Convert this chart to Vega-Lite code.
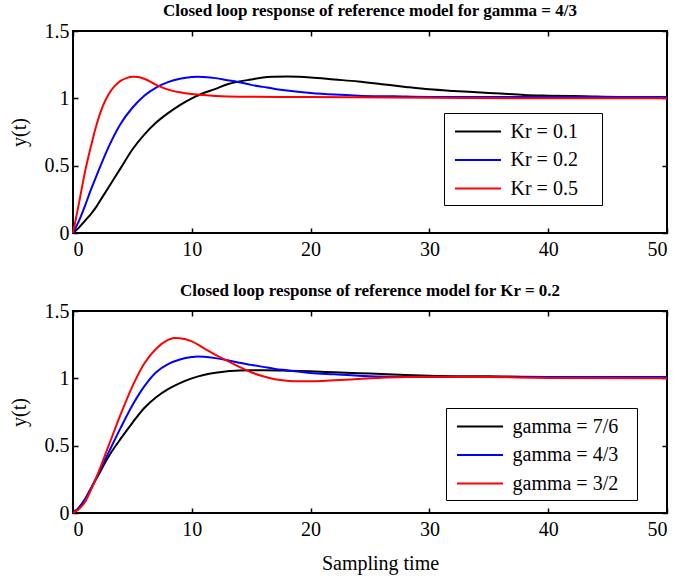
{
  "$schema": "https://vega.github.io/schema/vega-lite/v6.json",
  "background": "white",
  "padding": {"left": 8, "top": 1, "right": 5, "bottom": 5},
  "datasets": {
    "top": [
      {"t": 0, "y": 0, "series": "Kr = 0.1"}, {"t": 0.5, "y": 0.04, "series": "Kr = 0.1"}, {"t": 1, "y": 0.09, "series": "Kr = 0.1"},
      {"t": 1.5, "y": 0.14, "series": "Kr = 0.1"}, {"t": 2, "y": 0.2, "series": "Kr = 0.1"}, {"t": 2.5, "y": 0.27, "series": "Kr = 0.1"},
      {"t": 3, "y": 0.34, "series": "Kr = 0.1"}, {"t": 4, "y": 0.48, "series": "Kr = 0.1"}, {"t": 5, "y": 0.62, "series": "Kr = 0.1"},
      {"t": 6, "y": 0.73, "series": "Kr = 0.1"}, {"t": 7, "y": 0.82, "series": "Kr = 0.1"}, {"t": 8, "y": 0.89, "series": "Kr = 0.1"},
      {"t": 9, "y": 0.95, "series": "Kr = 0.1"}, {"t": 10, "y": 1.0, "series": "Kr = 0.1"}, {"t": 11, "y": 1.04, "series": "Kr = 0.1"},
      {"t": 12, "y": 1.07, "series": "Kr = 0.1"}, {"t": 13, "y": 1.105, "series": "Kr = 0.1"}, {"t": 14, "y": 1.125, "series": "Kr = 0.1"},
      {"t": 15, "y": 1.14, "series": "Kr = 0.1"}, {"t": 16, "y": 1.155, "series": "Kr = 0.1"}, {"t": 17, "y": 1.16, "series": "Kr = 0.1"},
      {"t": 18, "y": 1.162, "series": "Kr = 0.1"}, {"t": 19, "y": 1.16, "series": "Kr = 0.1"}, {"t": 20, "y": 1.155, "series": "Kr = 0.1"},
      {"t": 22, "y": 1.14, "series": "Kr = 0.1"}, {"t": 24, "y": 1.125, "series": "Kr = 0.1"}, {"t": 26, "y": 1.105, "series": "Kr = 0.1"},
      {"t": 28, "y": 1.085, "series": "Kr = 0.1"}, {"t": 30, "y": 1.067, "series": "Kr = 0.1"}, {"t": 32, "y": 1.055, "series": "Kr = 0.1"},
      {"t": 34, "y": 1.045, "series": "Kr = 0.1"}, {"t": 36, "y": 1.035, "series": "Kr = 0.1"}, {"t": 38, "y": 1.025, "series": "Kr = 0.1"},
      {"t": 40, "y": 1.02, "series": "Kr = 0.1"}, {"t": 43, "y": 1.015, "series": "Kr = 0.1"}, {"t": 46, "y": 1.01, "series": "Kr = 0.1"},
      {"t": 50, "y": 1.01, "series": "Kr = 0.1"},

      {"t": 0, "y": 0, "series": "Kr = 0.2"}, {"t": 0.5, "y": 0.09, "series": "Kr = 0.2"}, {"t": 1, "y": 0.2, "series": "Kr = 0.2"},
      {"t": 1.5, "y": 0.32, "series": "Kr = 0.2"}, {"t": 2, "y": 0.43, "series": "Kr = 0.2"}, {"t": 3, "y": 0.64, "series": "Kr = 0.2"},
      {"t": 4, "y": 0.81, "series": "Kr = 0.2"}, {"t": 5, "y": 0.93, "series": "Kr = 0.2"}, {"t": 6, "y": 1.02, "series": "Kr = 0.2"},
      {"t": 7, "y": 1.08, "series": "Kr = 0.2"}, {"t": 8, "y": 1.12, "series": "Kr = 0.2"}, {"t": 9, "y": 1.145, "series": "Kr = 0.2"},
      {"t": 10, "y": 1.158, "series": "Kr = 0.2"}, {"t": 10.5, "y": 1.16, "series": "Kr = 0.2"}, {"t": 11, "y": 1.158, "series": "Kr = 0.2"},
      {"t": 12, "y": 1.15, "series": "Kr = 0.2"}, {"t": 13, "y": 1.135, "series": "Kr = 0.2"}, {"t": 14, "y": 1.12, "series": "Kr = 0.2"},
      {"t": 15, "y": 1.1, "series": "Kr = 0.2"}, {"t": 16, "y": 1.085, "series": "Kr = 0.2"}, {"t": 17, "y": 1.07, "series": "Kr = 0.2"},
      {"t": 18, "y": 1.058, "series": "Kr = 0.2"}, {"t": 20, "y": 1.04, "series": "Kr = 0.2"}, {"t": 22, "y": 1.028, "series": "Kr = 0.2"},
      {"t": 24, "y": 1.02, "series": "Kr = 0.2"}, {"t": 27, "y": 1.015, "series": "Kr = 0.2"}, {"t": 30, "y": 1.01, "series": "Kr = 0.2"},
      {"t": 40, "y": 1.01, "series": "Kr = 0.2"}, {"t": 50, "y": 1.01, "series": "Kr = 0.2"},

      {"t": 0, "y": 0, "series": "Kr = 0.5"}, {"t": 0.5, "y": 0.22, "series": "Kr = 0.5"}, {"t": 1, "y": 0.45, "series": "Kr = 0.5"},
      {"t": 1.5, "y": 0.64, "series": "Kr = 0.5"}, {"t": 2, "y": 0.81, "series": "Kr = 0.5"}, {"t": 2.5, "y": 0.94, "series": "Kr = 0.5"},
      {"t": 3, "y": 1.03, "series": "Kr = 0.5"}, {"t": 3.5, "y": 1.09, "series": "Kr = 0.5"}, {"t": 4, "y": 1.13, "series": "Kr = 0.5"},
      {"t": 4.5, "y": 1.15, "series": "Kr = 0.5"}, {"t": 5, "y": 1.16, "series": "Kr = 0.5"}, {"t": 5.5, "y": 1.158, "series": "Kr = 0.5"},
      {"t": 6, "y": 1.145, "series": "Kr = 0.5"}, {"t": 7, "y": 1.1, "series": "Kr = 0.5"}, {"t": 8, "y": 1.065, "series": "Kr = 0.5"},
      {"t": 9, "y": 1.045, "series": "Kr = 0.5"}, {"t": 10, "y": 1.032, "series": "Kr = 0.5"}, {"t": 11, "y": 1.024, "series": "Kr = 0.5"},
      {"t": 12, "y": 1.018, "series": "Kr = 0.5"}, {"t": 14, "y": 1.012, "series": "Kr = 0.5"}, {"t": 20, "y": 1.01, "series": "Kr = 0.5"},
      {"t": 30, "y": 1.005, "series": "Kr = 0.5"}, {"t": 40, "y": 1.0, "series": "Kr = 0.5"}, {"t": 50, "y": 1.0, "series": "Kr = 0.5"}
    ],
    "bottom": [
      {"t": 0, "y": 0, "series": "gamma = 7/6"}, {"t": 0.5, "y": 0.04, "series": "gamma = 7/6"}, {"t": 1, "y": 0.1, "series": "gamma = 7/6"},
      {"t": 1.5, "y": 0.18, "series": "gamma = 7/6"}, {"t": 2, "y": 0.26, "series": "gamma = 7/6"}, {"t": 3, "y": 0.42, "series": "gamma = 7/6"},
      {"t": 4, "y": 0.55, "series": "gamma = 7/6"}, {"t": 5, "y": 0.67, "series": "gamma = 7/6"}, {"t": 6, "y": 0.78, "series": "gamma = 7/6"},
      {"t": 7, "y": 0.86, "series": "gamma = 7/6"}, {"t": 8, "y": 0.92, "series": "gamma = 7/6"}, {"t": 9, "y": 0.965, "series": "gamma = 7/6"},
      {"t": 10, "y": 1.0, "series": "gamma = 7/6"}, {"t": 11, "y": 1.025, "series": "gamma = 7/6"}, {"t": 12, "y": 1.042, "series": "gamma = 7/6"},
      {"t": 13, "y": 1.053, "series": "gamma = 7/6"}, {"t": 14, "y": 1.058, "series": "gamma = 7/6"}, {"t": 15, "y": 1.06, "series": "gamma = 7/6"},
      {"t": 16, "y": 1.06, "series": "gamma = 7/6"}, {"t": 18, "y": 1.057, "series": "gamma = 7/6"}, {"t": 20, "y": 1.052, "series": "gamma = 7/6"},
      {"t": 22, "y": 1.045, "series": "gamma = 7/6"}, {"t": 25, "y": 1.035, "series": "gamma = 7/6"}, {"t": 28, "y": 1.025, "series": "gamma = 7/6"},
      {"t": 30, "y": 1.02, "series": "gamma = 7/6"}, {"t": 35, "y": 1.015, "series": "gamma = 7/6"}, {"t": 40, "y": 1.01, "series": "gamma = 7/6"},
      {"t": 45, "y": 1.01, "series": "gamma = 7/6"}, {"t": 50, "y": 1.01, "series": "gamma = 7/6"},

      {"t": 0, "y": 0, "series": "gamma = 4/3"}, {"t": 0.5, "y": 0.04, "series": "gamma = 4/3"}, {"t": 1, "y": 0.1, "series": "gamma = 4/3"},
      {"t": 1.5, "y": 0.18, "series": "gamma = 4/3"}, {"t": 2, "y": 0.27, "series": "gamma = 4/3"}, {"t": 3, "y": 0.45, "series": "gamma = 4/3"},
      {"t": 4, "y": 0.63, "series": "gamma = 4/3"}, {"t": 5, "y": 0.8, "series": "gamma = 4/3"}, {"t": 6, "y": 0.94, "series": "gamma = 4/3"},
      {"t": 7, "y": 1.045, "series": "gamma = 4/3"}, {"t": 8, "y": 1.105, "series": "gamma = 4/3"}, {"t": 9, "y": 1.14, "series": "gamma = 4/3"},
      {"t": 10, "y": 1.158, "series": "gamma = 4/3"}, {"t": 10.5, "y": 1.162, "series": "gamma = 4/3"}, {"t": 11, "y": 1.16, "series": "gamma = 4/3"},
      {"t": 12, "y": 1.15, "series": "gamma = 4/3"}, {"t": 13, "y": 1.135, "series": "gamma = 4/3"}, {"t": 14, "y": 1.115, "series": "gamma = 4/3"},
      {"t": 15, "y": 1.1, "series": "gamma = 4/3"}, {"t": 16, "y": 1.085, "series": "gamma = 4/3"}, {"t": 17, "y": 1.07, "series": "gamma = 4/3"},
      {"t": 18, "y": 1.06, "series": "gamma = 4/3"}, {"t": 20, "y": 1.04, "series": "gamma = 4/3"}, {"t": 22, "y": 1.03, "series": "gamma = 4/3"},
      {"t": 24, "y": 1.02, "series": "gamma = 4/3"}, {"t": 27, "y": 1.012, "series": "gamma = 4/3"}, {"t": 30, "y": 1.01, "series": "gamma = 4/3"},
      {"t": 40, "y": 1.01, "series": "gamma = 4/3"}, {"t": 50, "y": 1.01, "series": "gamma = 4/3"},

      {"t": 0, "y": 0, "series": "gamma = 3/2"}, {"t": 0.5, "y": 0.03, "series": "gamma = 3/2"}, {"t": 1, "y": 0.08, "series": "gamma = 3/2"},
      {"t": 1.5, "y": 0.17, "series": "gamma = 3/2"}, {"t": 2, "y": 0.27, "series": "gamma = 3/2"}, {"t": 3, "y": 0.5, "series": "gamma = 3/2"},
      {"t": 4, "y": 0.73, "series": "gamma = 3/2"}, {"t": 5, "y": 0.94, "series": "gamma = 3/2"}, {"t": 6, "y": 1.11, "series": "gamma = 3/2"},
      {"t": 7, "y": 1.22, "series": "gamma = 3/2"}, {"t": 8, "y": 1.285, "series": "gamma = 3/2"}, {"t": 8.5, "y": 1.3, "series": "gamma = 3/2"},
      {"t": 9, "y": 1.298, "series": "gamma = 3/2"}, {"t": 10, "y": 1.275, "series": "gamma = 3/2"}, {"t": 11, "y": 1.225, "series": "gamma = 3/2"},
      {"t": 12, "y": 1.175, "series": "gamma = 3/2"}, {"t": 13, "y": 1.13, "series": "gamma = 3/2"}, {"t": 14, "y": 1.085, "series": "gamma = 3/2"},
      {"t": 15, "y": 1.045, "series": "gamma = 3/2"}, {"t": 16, "y": 1.015, "series": "gamma = 3/2"}, {"t": 17, "y": 0.993, "series": "gamma = 3/2"},
      {"t": 18, "y": 0.982, "series": "gamma = 3/2"}, {"t": 19, "y": 0.978, "series": "gamma = 3/2"}, {"t": 20, "y": 0.978, "series": "gamma = 3/2"},
      {"t": 21, "y": 0.98, "series": "gamma = 3/2"}, {"t": 22, "y": 0.985, "series": "gamma = 3/2"}, {"t": 24, "y": 0.995, "series": "gamma = 3/2"},
      {"t": 26, "y": 1.005, "series": "gamma = 3/2"}, {"t": 28, "y": 1.01, "series": "gamma = 3/2"}, {"t": 30, "y": 1.012, "series": "gamma = 3/2"},
      {"t": 35, "y": 1.01, "series": "gamma = 3/2"}, {"t": 40, "y": 1.003, "series": "gamma = 3/2"}, {"t": 50, "y": 1.0, "series": "gamma = 3/2"}
    ]
  },
  "config": {
    "font": "Liberation Serif",
    "view": {"stroke": "black", "strokeWidth": 2},
    "axis": {
      "grid": false, "domain": false,
      "tickColor": "black", "tickWidth": 1.5, "tickSize": -5,
      "labelFont": "Liberation Serif", "labelFontSize": 20, "labelColor": "black",
      "titleFont": "Liberation Serif", "titleFontSize": 20, "titleFontWeight": "normal", "titleColor": "black"
    },
    "title": {"font": "Liberation Serif", "fontSize": 17, "fontWeight": "bold", "color": "black", "offset": 1},
    "legend": {
      "orient": "none", "title": null,
      "symbolSize": 529, "symbolStrokeWidth": 2, "symbolOffset": 15.5,
      "labelFont": "Liberation Serif", "labelFontSize": 20, "labelColor": "black",
      "labelOffset": 20, "padding": 6, "rowPadding": 5.5,
      "fillColor": "white", "strokeColor": "black"
    }
  },
  "spacing": 21,
  "resolve": {"scale": {"color": "independent"}, "legend": {"color": "independent"}},
  "vconcat": [
    {
      "width": 594, "height": 202,
      "title": "Closed loop response of reference model for gamma = 4/3",
      "data": {"name": "top"},
      "layer": [
        {
          "mark": {"type": "line", "strokeWidth": 2, "interpolate": "monotone"},
          "encoding": {
            "x": {"field": "t", "type": "quantitative", "scale": {"domain": [0, 50], "nice": false},
                  "axis": {"orient": "bottom", "values": [0, 10, 20, 30, 40, 50], "title": null, "labelPadding": 11}},
            "y": {"field": "y", "type": "quantitative", "scale": {"domain": [0, 1.5], "nice": false},
                  "axis": {"orient": "left", "values": [0, 0.5, 1, 1.5], "title": "y(t)", "labelExpr": "'' + datum.value", "labelPadding": 9, "titlePadding": 15}},
            "color": {"field": "series", "type": "nominal",
                      "scale": {"domain": ["Kr = 0.1", "Kr = 0.2", "Kr = 0.5"], "range": ["#000000", "#0000ff", "#ff0000"]},
                      "legend": {"legendX": 371, "legendY": 82, "symbolType": "M-2.348,0M-2,0H2M9.91,0"}}
          }
        },
        {
          "mark": {"type": "line", "strokeOpacity": 0},
          "encoding": {
            "x": {"field": "t", "type": "quantitative", "axis": {"orient": "top", "values": [0, 10, 20, 30, 40, 50], "labels": false, "title": null}},
            "y": {"field": "y", "type": "quantitative", "axis": {"orient": "right", "values": [0, 0.5, 1, 1.5], "labels": false, "title": null}},
            "detail": {"field": "series"}
          }
        }
      ],
      "resolve": {"axis": {"x": "independent", "y": "independent"}}
    },
    {
      "width": 594, "height": 202,
      "title": "Closed loop response of reference model for Kr = 0.2",
      "data": {"name": "bottom"},
      "layer": [
        {
          "mark": {"type": "line", "strokeWidth": 2, "interpolate": "monotone"},
          "encoding": {
            "x": {"field": "t", "type": "quantitative", "scale": {"domain": [0, 50], "nice": false},
                  "axis": {"orient": "bottom", "values": [0, 10, 20, 30, 40, 50], "title": "Sampling time", "labelPadding": 11, "titlePadding": 14, "titleX": 307}},
            "y": {"field": "y", "type": "quantitative", "scale": {"domain": [0, 1.5], "nice": false},
                  "axis": {"orient": "left", "values": [0, 0.5, 1, 1.5], "title": "y(t)", "labelExpr": "'' + datum.value", "labelPadding": 9, "titlePadding": 15}},
            "color": {"field": "series", "type": "nominal",
                      "scale": {"domain": ["gamma = 7/6", "gamma = 4/3", "gamma = 3/2"], "range": ["#000000", "#0000ff", "#ff0000"]},
                      "legend": {"legendX": 373, "legendY": 97, "symbolType": "M-2.348,0M-2,0H2M12.7,0"}}
          }
        },
        {
          "mark": {"type": "line", "strokeOpacity": 0},
          "encoding": {
            "x": {"field": "t", "type": "quantitative", "axis": {"orient": "top", "values": [0, 10, 20, 30, 40, 50], "labels": false, "title": null}},
            "y": {"field": "y", "type": "quantitative", "axis": {"orient": "right", "values": [0, 0.5, 1, 1.5], "labels": false, "title": null}},
            "detail": {"field": "series"}
          }
        }
      ],
      "resolve": {"axis": {"x": "independent", "y": "independent"}}
    }
  ]
}
